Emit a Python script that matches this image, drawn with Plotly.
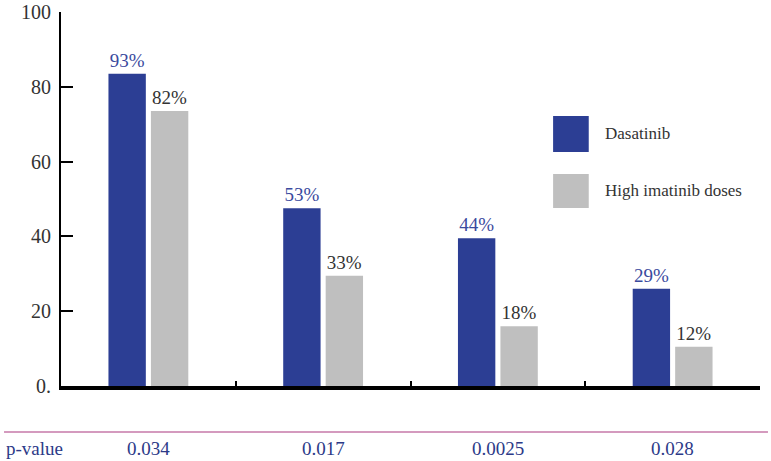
import plotly.graph_objects as go

categories = ['A', 'B', 'C', 'D']
dasatinib_height = [83.5, 47.5, 39.5, 26.0]
imatinib_height = [73.5, 29.5, 16.0, 10.5]
dasatinib_labels = ['93%', '53%', '44%', '29%']
imatinib_labels = ['82%', '33%', '18%', '12%']
p_values = ['0.034', '0.017', '0.0025', '0.028']
y_ticks = [0, 20, 40, 60, 80, 100]
y_tick_text = ['0.', '20', '40', '60', '80', '100']

BLUE = '#2c3e94'
GRAY = '#bfbfbf'
LABEL_BLUE = '#3a4a9e'
TEXT = '#333333'
FONT = 'Liberation Serif, Times New Roman, serif'

fig = go.Figure()
fig.add_trace(go.Bar(
    x=categories, y=dasatinib_height, name='Dasatinib',
    marker=dict(color=BLUE, line=dict(width=0)),
    text=dasatinib_labels, textposition='outside', cliponaxis=False,
    textfont=dict(color=LABEL_BLUE, size=19, family=FONT),
))
fig.add_trace(go.Bar(
    x=categories, y=imatinib_height, name='High imatinib doses',
    marker=dict(color=GRAY, line=dict(width=0)),
    text=imatinib_labels, textposition='outside', cliponaxis=False,
    textfont=dict(color=TEXT, size=19, family=FONT),
))

# legend drawn as large squares
legend_items = [('Dasatinib', BLUE, 0.722, 0.626),
                ('High imatinib doses', GRAY, 0.567, 0.476)]
for name, color, y1, y0 in legend_items:
    fig.add_shape(type='rect', xref='paper', yref='paper',
                  x0=0.704, x1=0.755, y0=y0, y1=y1,
                  fillcolor=color, line=dict(width=0))
    fig.add_annotation(xref='paper', yref='paper', x=0.776, y=(y0 + y1) / 2,
                       text=name, showarrow=False,
                       xanchor='left', yanchor='middle',
                       font=dict(size=17, color=TEXT, family=FONT))

# p-value row
fig.add_shape(type='line', xref='paper', yref='paper',
              x0=-0.0815, x1=1.0114, y0=-0.123, y1=-0.123,
              line=dict(color='#c678a8', width=1.5))
fig.add_annotation(xref='paper', yref='paper', x=-0.0815, y=-0.168,
                   text='p-value', showarrow=False,
                   xanchor='left', yanchor='middle',
                   font=dict(size=19, color='#2c3a88', family=FONT))
for cat, p in zip(categories, p_values):
    fig.add_annotation(xref='x', yref='paper', x=cat, y=-0.168,
                       text=p, showarrow=False, yanchor='middle',
                       font=dict(size=19, color='#2c3a88', family=FONT))

fig.update_layout(
    width=771, height=461,
    margin=dict(l=61, r=11, t=12, b=75, autoexpand=False),
    paper_bgcolor='white', plot_bgcolor='white',
    barmode='group', bargap=0.514, bargroupgap=0.12,
    showlegend=False,
    font=dict(family=FONT, color=TEXT, size=19),
    xaxis=dict(showticklabels=False, showline=True, linecolor='black',
               linewidth=4, ticks='inside', tickson='boundaries',
               ticklen=5, tickwidth=1.5, tickcolor='black',
               showgrid=False, zeroline=False, automargin=False),
    yaxis=dict(range=[0, 100], tickvals=y_ticks, ticktext=y_tick_text,
               showline=True, linecolor='black', linewidth=2,
               ticks='inside', ticklen=12, tickwidth=2, tickcolor='black',
               ticklabelstandoff=4,
               showgrid=False, zeroline=False, automargin=False,
               tickfont=dict(size=20, color=TEXT, family=FONT)),
)

fig.write_html('out.html', config={'displayModeBar': False},
               post_script="document.body.style.margin='0';"
                           "document.body.style.overflow='hidden';")
